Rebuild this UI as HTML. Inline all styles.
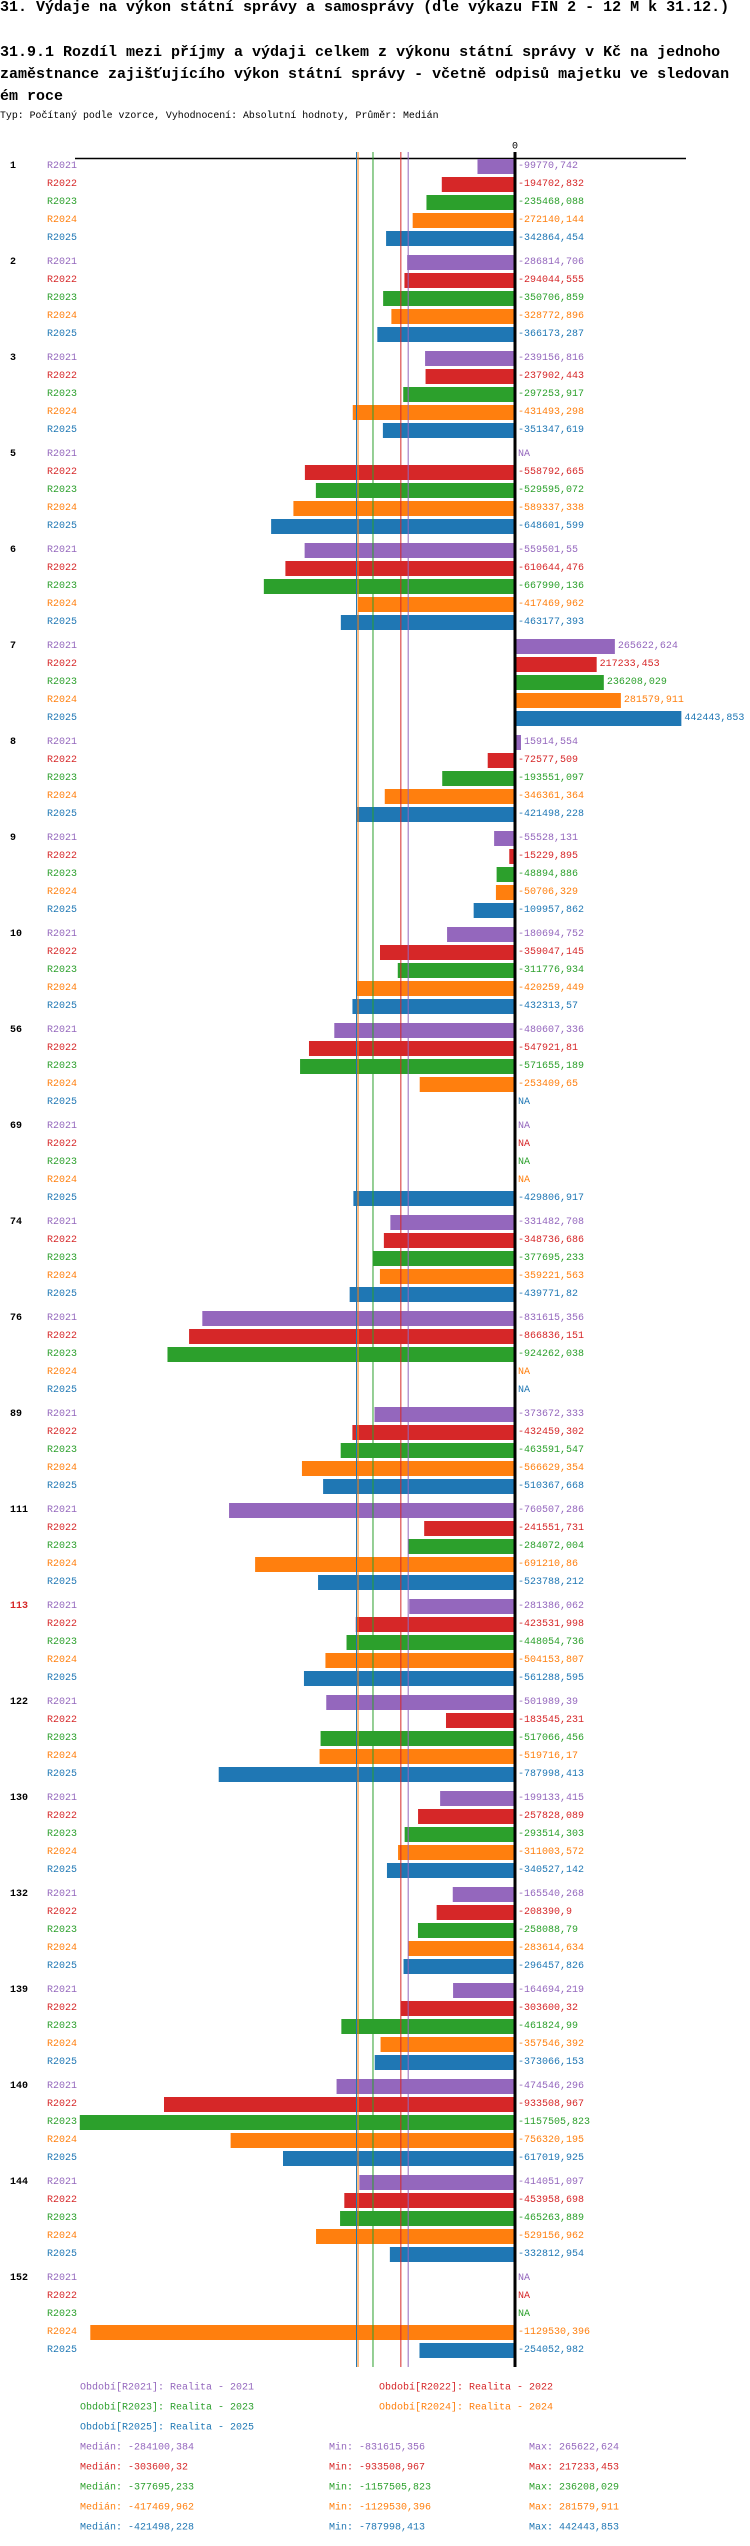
<!DOCTYPE html>
<html><head><meta charset="utf-8">
<style>
html,body{margin:0;padding:0;background:#fff;}
body{width:750px;height:2546px;overflow:hidden;position:relative;font-family:"Liberation Mono",monospace;}
.t{position:absolute;left:0;white-space:pre;font-weight:bold;font-size:15px;line-height:22px;color:#000;}
.sub{position:absolute;left:0;top:110px;font-size:9.9px;white-space:pre;color:#000;}
svg{position:absolute;left:0;top:0;}
svg text{font-family:"Liberation Mono",monospace;font-size:10px;dominant-baseline:central;}
</style></head><body>
<div class="t" style="top:-3px">31. Výdaje na výkon státní správy a samosprávy (dle výkazu FIN 2 - 12 M k 31.12.)</div>
<div class="t" style="top:42px">31.9.1 Rozdíl mezi příjmy a výdaji celkem z výkonu státní správy v Kč na jednoho
zaměstnance zajišťujícího výkon státní správy - včetně odpisů majetku ve sledovan
ém roce</div>
<div class="sub">Typ: Počítaný podle vzorce, Vyhodnocení: Absolutní hodnoty, Průměr: Medián</div>
<svg id="chart" width="750" height="2546" xmlns="http://www.w3.org/2000/svg"></svg>
<script>
const groups = ["1","2","3","5","6","7","8","9","10","56","69","74","76","89","111","113","122","130","132","139","140","144","152"];
const seriesNames = ["R2021","R2022","R2023","R2024","R2025"];
const colors = ["#9467bd","#d62728","#2ca02c","#ff7f0e","#1f77b4"];
const r2021 = [-99770.742,-286814.706,-239156.816,null,-559501.55,265622.624,15914.554,-55528.131,-180694.752,-480607.336,null,-331482.708,-831615.356,-373672.333,-760507.286,-281386.062,-501989.39,-199133.415,-165540.268,-164694.219,-474546.296,-414051.097,null];
const r2022 = [-194702.832,-294044.555,-237902.443,-558792.665,-610644.476,217233.453,-72577.509,-15229.895,-359047.145,-547921.81,null,-348736.686,-866836.151,-432459.302,-241551.731,-423531.998,-183545.231,-257828.089,-208390.9,-303600.32,-933508.967,-453958.698,null];
const r2023 = [-235468.088,-350706.859,-297253.917,-529595.072,-667990.136,236208.029,-193551.097,-48894.886,-311776.934,-571655.189,null,-377695.233,-924262.038,-463591.547,-284072.004,-448054.736,-517066.456,-293514.303,-258088.79,-461824.99,-1157505.823,-465263.889,null];
const r2024 = [-272140.144,-328772.896,-431493.298,-589337.338,-417469.962,281579.911,-346361.364,-50706.329,-420259.449,-253409.65,null,-359221.563,null,-566629.354,-691210.86,-504153.807,-519716.17,-311003.572,-283614.634,-357546.392,-756320.195,-529156.962,-1129530.396];
const r2025 = [-342864.454,-366173.287,-351347.619,-648601.599,-463177.393,442443.853,-421498.228,-109957.862,-432313.57,null,-429806.917,-439771.82,null,-510367.668,-523788.212,-561288.595,-787998.413,-340527.142,-296457.826,-373066.153,-617019.925,-332812.954,-254052.982];
const medians = [-284100.384,-303600.32,-377695.233,-417469.962,-421498.228];
const mins = ["-831615,356","-933508,967","-1157505,823","-1129530,396","-787998,413"];
const maxs = ["265622,624","217233,453","236208,029","281579,911","442443,853"];
const medianLabels = ["-284100,384","-303600,32","-377695,233","-417469,962","-421498,228"];
const legendLabels = ["Období[R2021]: Realita - 2021","Období[R2022]: Realita - 2022","Období[R2023]: Realita - 2023","Období[R2024]: Realita - 2024","Období[R2025]: Realita - 2025"];

const series = [r2021,r2022,r2023,r2024,r2025];
const svg = document.getElementById('chart');
const NS = "http://www.w3.org/2000/svg";
const X0 = 515, K = 0.000376;
const xs = v => X0 + v*K;
const rowY = (g,r) => 159 + g*96 + r*18;
function el(tag, attrs, parent){const e=document.createElementNS(NS,tag);for(const k in attrs)e.setAttribute(k,attrs[k]);(parent||svg).appendChild(e);return e;}
function fmt(v){let s=String(v);return s.replace('.',',');}

let ax = el('line',{x1:75,x2:686,y1:158.5,y2:158.5,stroke:'#000','stroke-width':1.5});


let zl = el('text',{x:X0,y:147,'text-anchor':'middle',fill:'#000'});
zl.textContent='0';



groups.forEach((gname,g)=>{
  const gt = el('text',{x:10,y:rowY(g,0)+7.5,fill:gname==='113'?'#d62728':'#000','font-weight':'bold','font-size':'11px'});
  gt.textContent=gname;
  
  
  series.forEach((arr,s)=>{
    const y = rowY(g,s);
    const lt = el('text',{x:47,y:y+7.5,fill:colors[s]});
    lt.textContent=seriesNames[s];
    
    
    const v = arr[g];
    let tx = 518;
    if(v!==null){
      const x1 = Math.min(xs(v),X0), x2 = Math.max(xs(v),X0);
      const b = el('rect',{x:x1,y:y,width:x2-x1,height:15,fill:colors[s]});
      
      
      if(v>0) tx = x2+3;
    }
    const vt = el('text',{x:tx,y:y+7.5,fill:colors[s]});
    vt.textContent = v===null?'NA':fmt(v);
    
    
  });
});

medians.forEach((m,s)=>{
  const l = el('line',{x1:xs(m),x2:xs(m),y1:152,y2:2367,stroke:colors[s],'stroke-width':1});
  
  
});
const z = el('line',{x1:X0,x2:X0,y1:152,y2:2367,stroke:'#000','stroke-width':3});



const legPos = [[80,2388],[379,2388],[80,2408],[379,2408],[80,2428]];
legendLabels.forEach((t,s)=>{
  const e = el('text',{x:legPos[s][0],y:legPos[s][1],fill:colors[s],'font-size':'10.5px'});
  e.textContent=t;
  
  
});
seriesNames.forEach((n,s)=>{
  const y = 2448 + s*20;
  const a = el('text',{x:80,y:y,fill:colors[s],'font-size':'10.5px'});
  a.textContent='Medián: '+medianLabels[s];
  
  
  const b = el('text',{x:329,y:y,fill:colors[s],'font-size':'10.5px'});
  b.textContent='Min: '+mins[s];
  
  
  const c = el('text',{x:529,y:y,fill:colors[s],'font-size':'10.5px'});
  c.textContent='Max: '+maxs[s];
  
  
});
</script>
</body></html>
